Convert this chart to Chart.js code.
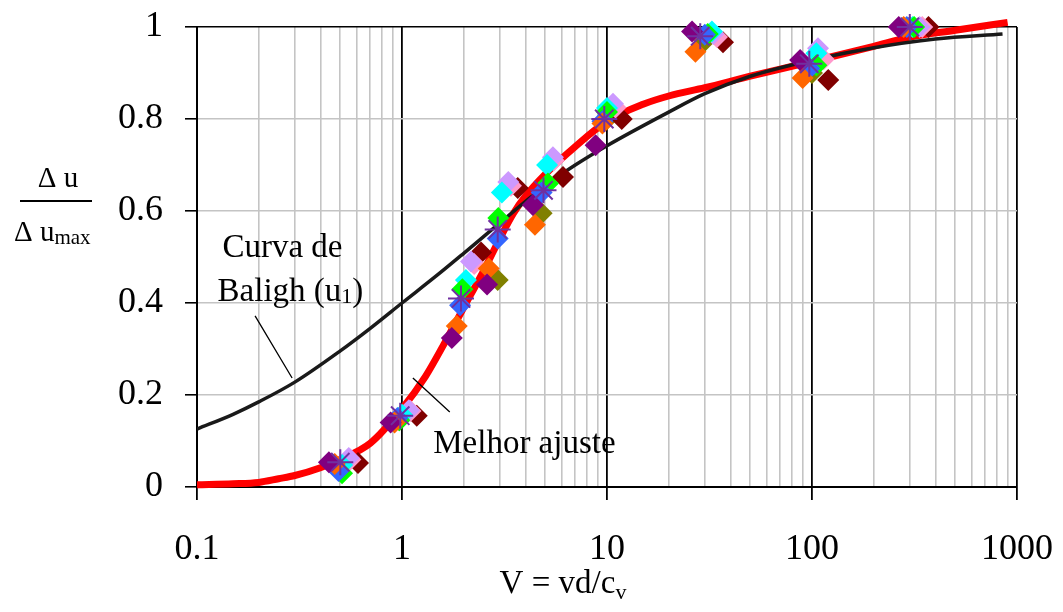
<!DOCTYPE html>
<html>
<head>
<meta charset="utf-8">
<script src="https://cdn.jsdelivr.net/npm/chart.js@4/dist/chart.umd.min.js"></script>
<style>
  html, body { margin: 0; background: #fff; }
  #box { width: 1063px; height: 612px; position: relative; }
</style>
</head>
<body>
<div id="box"><canvas id="c"></canvas></div>
<script>
// tick labels
const xTickLabels = ["0.1", "1", "10", "100", "1000"];
const yTicks = [0, 0.2, 0.4, 0.6, 0.8, 1];
const yTickLabels = ["0", "0.2", "0.4", "0.6", "0.8", "1"];

// best fit (red) and Baligh curve (black)
const fitX = [0.1, 0.15, 0.2, 0.25, 0.3, 0.4, 0.5, 0.7, 1, 1.3, 1.6, 2, 2.5, 3, 3.5, 4, 5, 7, 10, 15, 20, 30, 50, 100, 200, 300, 500, 900];
const fitY = [0.005, 0.007, 0.01, 0.018, 0.025, 0.042, 0.06, 0.095, 0.17, 0.24, 0.31, 0.39, 0.47, 0.54, 0.595, 0.632, 0.68, 0.74, 0.795, 0.832, 0.85, 0.868, 0.893, 0.925, 0.958, 0.978, 0.993, 1.01];
const balighX = [0.1, 0.15, 0.2, 0.3, 0.5, 0.7, 1, 1.5, 2, 3, 5, 7, 10, 20, 30, 50, 100, 200, 400, 850];
const balighY = [0.126, 0.158, 0.185, 0.228, 0.296, 0.345, 0.4, 0.462, 0.508, 0.574, 0.655, 0.7, 0.742, 0.815, 0.855, 0.893, 0.928, 0.955, 0.974, 0.985];

// measured points, one list per series
const starPts = [[0.5, 0.054], [0.98, 0.155], [1.94, 0.41], [2.93, 0.56], [4.9, 0.645], [9.7, 0.8], [28.5, 0.98], [97, 0.92], [300, 1.0]];
const purplePts = [[0.44, 0.054], [0.88, 0.14], [1.75, 0.324], [2.6, 0.44], [4.35, 0.613], [8.8, 0.743], [26, 0.99], [87.5, 0.928], [265, 1.0]];
const orangePts = [[0.47, 0.05], [0.92, 0.14], [1.85, 0.35], [2.65, 0.475], [4.45, 0.57], [9.5, 0.79], [27, 0.946], [90, 0.889], [280, 1.0]];
const bluePts = [[0.49, 0.035], [0.95, 0.15], [1.92, 0.395], [2.93, 0.54], [4.8, 0.64], [9.5, 0.795], [30, 0.983], [97, 0.91], [290, 1.0]];
const greenPts = [[0.51, 0.03], [0.97, 0.145], [1.97, 0.43], [2.95, 0.585], [5.15, 0.66], [10, 0.815], [31, 0.985], [105, 0.917], [315, 1.0]];
const cyanPts = [[0.51, 0.048], [1.0, 0.157], [2.05, 0.45], [3.07, 0.64], [5.1, 0.7], [10, 0.824], [32.5, 0.99], [105, 0.943], [310, 1.0]];
const lilacPts = [[0.55, 0.063], [1.08, 0.167], [2.17, 0.49], [3.3, 0.663], [5.45, 0.717], [10.7, 0.833], [33, 0.985], [107, 0.954], [335, 1.0]];
const pinkPts = [[0.56, 0.06], [1.1, 0.165], [2.25, 0.485], [3.4, 0.655], [5.5, 0.71], [11, 0.825], [34.4, 0.978], [114, 0.93], [345, 1.0]];
const maroonPts = [[0.61, 0.052], [1.18, 0.155], [2.43, 0.51], [3.67, 0.65], [6.1, 0.674], [11.8, 0.8], [36.8, 0.967], [120, 0.885], [370, 1.0]];
const olivePts = [[0.5, 0.045], [0.97, 0.145], [2.93, 0.45], [4.8, 0.595], [10, 0.8], [30, 0.97], [100, 0.9], [300, 1.0]];

const isDecade = (v) => Math.abs(Math.log10(v) - Math.round(Math.log10(v))) < 1e-9;
const logTicks = [];
for (let e = -1; e <= 3; e++) {
  for (let m = 1; m <= 9; m++) {
    const v = Number((m * Math.pow(10, e)).toPrecision(3));
    if (v <= 1000) logTicks.push(v);
  }
}

const serif = "'Liberation Serif', 'Times New Roman', serif";
const pts = (arr) => arr.map(([x, y]) => ({ x, y }));

function marks(pointsArr, color, style) {
  return {
    type: "scatter",
    data: pts(pointsArr),
    pointStyle: style || "rectRot",
    pointRadius: style === "star" ? 13 : 11,
    pointBackgroundColor: color,
    pointBorderColor: color,
    pointBorderWidth: style === "star" ? 2 : 0,
    showLine: false,
    clip: false,
    order: 0,
  };
}

// chart.js adds room for end labels; the layout padding is set by hand instead
const noPad = (s) => {
  s.paddingTop = 0;
  s.paddingBottom = 0;
  s.paddingLeft = 0;
  s.paddingRight = 0;
};

// text notes and leader lines, placed in data units
const notes = {
  id: "notes",
  afterDraw(chart) {
    const { ctx, scales } = chart;
    const X = (v) => scales.x.getPixelForValue(v);
    const Y = (v) => scales.y.getPixelForValue(v);
    ctx.save();
    ctx.strokeStyle = "#000";
    ctx.lineWidth = 1.3;
    ctx.beginPath();
    ctx.moveTo(X(0.192), Y(0.372));
    ctx.lineTo(X(0.291), Y(0.237));
    ctx.moveTo(X(1.13), Y(0.237));
    ctx.lineTo(X(1.71), Y(0.163));
    ctx.stroke();

    ctx.fillStyle = "#000";
    ctx.textBaseline = "alphabetic";
    ctx.textAlign = "left";
    ctx.font = `33px ${serif}`;
    ctx.fillText("Curva de", X(0.133), Y(0.5));
    let x0 = X(0.126), y0 = Y(0.404);
    ctx.fillText("Baligh (u", x0, y0);
    x0 += ctx.measureText("Baligh (u").width;
    ctx.font = `22px ${serif}`;
    ctx.fillText("1", x0, y0 + 2);
    x0 += ctx.measureText("1").width;
    ctx.font = `33px ${serif}`;
    ctx.fillText(")", x0, y0);
    ctx.fillText("Melhor ajuste", X(1.42), Y(0.075));

    // y title as fraction
    ctx.font = `29px ${serif}`;
    ctx.textAlign = "center";
    ctx.fillText("\u0394 u", 58, 187);
    ctx.fillRect(20, 200, 72, 2);
    ctx.textAlign = "left";
    let tx = 14;
    ctx.fillText("\u0394 u", tx, 241);
    tx += ctx.measureText("\u0394 u").width;
    ctx.font = `21px ${serif}`;
    ctx.fillText("max", tx, 244);

    // x title
    ctx.font = `33px ${serif}`;
    const main = "V = vd/c";
    const w1 = ctx.measureText(main).width;
    ctx.font = `22px ${serif}`;
    const w2 = ctx.measureText("v").width;
    const sx = 563 - (w1 + w2) / 2;
    ctx.font = `33px ${serif}`;
    ctx.fillText(main, sx, 593);
    ctx.font = `22px ${serif}`;
    ctx.fillText("v", sx + w1, 599);
    ctx.restore();
  },
};

new Chart(document.getElementById("c"), {
  data: {
    datasets: [
      marks(starPts, "#7030a0", "star"),
      marks(purplePts, "#800080"),
      marks(orangePts, "#ff6600"),
      marks(bluePts, "#3366ff"),
      marks(greenPts, "#00ff00"),
      marks(cyanPts, "#00ffff"),
      marks(lilacPts, "#cc99ff"),
      marks(pinkPts, "#ff99cc"),
      marks(maroonPts, "#800000"),
      marks(olivePts, "#808000"),
      {
        type: "line",
        data: balighX.map((x, i) => ({ x, y: balighY[i] })),
        borderColor: "#1a1a1a",
        borderWidth: 3.5,
        pointRadius: 0,
        cubicInterpolationMode: "monotone",
        order: 1,
      },
      {
        type: "line",
        data: fitX.map((x, i) => ({ x, y: fitY[i] })),
        borderColor: "#ff0000",
        borderWidth: 7,
        pointRadius: 0,
        cubicInterpolationMode: "monotone",
        clip: false,
        order: 2,
      },
    ],
  },
  options: {
    responsive: true,
    maintainAspectRatio: false,
    animation: false,
    layout: { padding: { left: 0, top: 27, right: 46, bottom: 0 } },
    plugins: { legend: { display: false }, tooltip: { enabled: false } },
    scales: {
      x: {
        type: "logarithmic",
        min: 0.1,
        max: 1000,
        afterBuildTicks: (s) => {
          s.ticks = logTicks.map((v) => ({ value: v }));
        },
        afterFit: (s) => {
          s.height = 125;
          noPad(s);
        },
        ticks: {
          autoSkip: false,
          maxRotation: 0,
          color: "#000",
          padding: 28,
          font: { family: serif, size: 36 },
          callback: (v) => (isDecade(v) ? xTickLabels[Math.round(Math.log10(v)) + 1] : ""),
        },
        grid: {
          color: (c) => (c.tick && isDecade(c.tick.value) ? "#000" : "#c4c4c4"),
          lineWidth: (c) => (c.tick && isDecade(c.tick.value) ? 1.8 : 1.6),
          tickLength: 13,
          tickColor: (c) => (c.tick && isDecade(c.tick.value) ? "#000" : "rgba(0,0,0,0)"),
        },
        border: { color: "#000", width: 2 },
      },
      y: {
        type: "linear",
        min: 0,
        max: 1,
        afterBuildTicks: (s) => {
          s.ticks = yTicks.map((v) => ({ value: v }));
        },
        afterFit: (s) => {
          s.width = 197;
          noPad(s);
        },
        ticks: {
          color: "#000",
          padding: 22,
          font: { family: serif, size: 36 },
          callback: (v) => yTickLabels[yTicks.indexOf(v)],
        },
        grid: {
          color: (c) => (c.tick && c.tick.value === 1 ? "#000" : "#c4c4c4"),
          lineWidth: 1.6,
          tickLength: 12,
          tickColor: "#000",
        },
        border: { color: "#000", width: 2 },
      },
    },
  },
  plugins: [notes],
});
</script>
</body>
</html>
